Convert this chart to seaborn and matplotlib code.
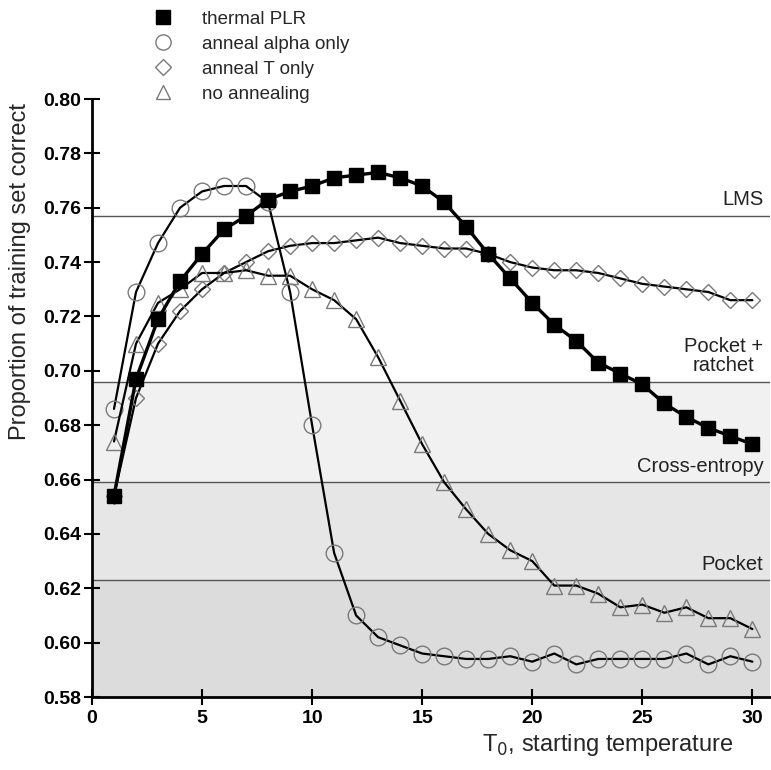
import numpy as np
import pandas as pd
import matplotlib
matplotlib.use("Agg")
import matplotlib.pyplot as plt
from matplotlib.lines import Line2D
import seaborn as sns

# ---------------- data ----------------
T0 = list(range(1, 31))
thermal_plr = [0.654, 0.697, 0.719, 0.733, 0.743, 0.752, 0.757, 0.763, 0.766, 0.768,
               0.771, 0.772, 0.773, 0.771, 0.768, 0.762, 0.753, 0.743, 0.734, 0.725,
               0.717, 0.711, 0.703, 0.699, 0.695, 0.688, 0.683, 0.679, 0.676, 0.673]
anneal_alpha = [0.686, 0.729, 0.747, 0.760, 0.766, 0.768, 0.768, 0.762, 0.729, 0.680,
                0.633, 0.610, 0.602, 0.599, 0.596, 0.595, 0.594, 0.594, 0.595, 0.593,
                0.596, 0.592, 0.594, 0.594, 0.594, 0.594, 0.596, 0.592, 0.595, 0.593]
anneal_T = [0.654, 0.690, 0.710, 0.722, 0.730, 0.736, 0.740, 0.744, 0.746, 0.747,
            0.747, 0.748, 0.749, 0.747, 0.746, 0.745, 0.745, 0.743, 0.740, 0.738,
            0.737, 0.737, 0.736, 0.734, 0.732, 0.731, 0.730, 0.729, 0.726, 0.726]
no_annealing = [0.674, 0.710, 0.725, 0.730, 0.736, 0.736, 0.737, 0.735, 0.735, 0.730,
                0.726, 0.719, 0.705, 0.689, 0.673, 0.659, 0.649, 0.640, 0.634, 0.630,
                0.621, 0.621, 0.618, 0.613, 0.614, 0.611, 0.613, 0.609, 0.609, 0.605]

series_names = ["thermal PLR", "anneal alpha only", "anneal T only", "no annealing"]

ref_names = ["LMS", "Pocket +\nratchet", "Cross-entropy", "Pocket"]
ref_values = [0.757, 0.696, 0.659, 0.623]

y_ticks = [0.58, 0.60, 0.62, 0.64, 0.66, 0.68, 0.70, 0.72, 0.74, 0.76, 0.78, 0.80]
x_ticks = [0, 5, 10, 15, 20, 25, 30]

# ---------------- style ----------------
sns.set_theme(style="ticks")
plt.rcParams["font.family"] = ["Liberation Sans", "DejaVu Sans"]

fig = plt.figure(figsize=(7.71, 7.70), dpi=100)
ax = fig.add_axes([0.1193, 0.0948, 0.8794, 0.7766])

XMAX = 30.8
YMIN, YMAX = 0.58, 0.80

# shaded bands under the reference lines
band_colors = ["#f1f1f1", "#e6e6e6", "#dcdcdc"]
ax.axhspan(YMIN, ref_values[1], color=band_colors[0], lw=0, zorder=0)
ax.axhspan(YMIN, ref_values[2], color=band_colors[1], lw=0, zorder=0)
ax.axhspan(YMIN, ref_values[3], color=band_colors[2], lw=0, zorder=0)

for v in ref_values:
    ax.axhline(v, color="#555555", lw=1.0, zorder=1)

df = pd.DataFrame({"T0": T0})
df["thermal PLR"] = thermal_plr
df["anneal alpha only"] = anneal_alpha
df["anneal T only"] = anneal_T
df["no annealing"] = no_annealing

styles = {
    "thermal PLR": dict(marker="s", markersize=10, markerfacecolor="black",
                        markeredgecolor="black", lw=2.4, z=6),
    "anneal alpha only": dict(marker="o", markersize=12, markerfacecolor="none",
                              markeredgecolor="#7a7a7a", markeredgewidth=1.0, lw=1.6, z=4),
    "anneal T only": dict(marker="D", markersize=8.5, markerfacecolor="none",
                          markeredgecolor="#7a7a7a", markeredgewidth=1.0, lw=1.6, z=4),
    "no annealing": dict(marker="^", markersize=11, markerfacecolor="none",
                         markeredgecolor="#7a7a7a", markeredgewidth=1.0, lw=1.6, z=4),
}

for name in ["anneal alpha only", "anneal T only", "no annealing", "thermal PLR"]:
    st = styles[name]
    sns.lineplot(data=df, x="T0", y=name, ax=ax, color="black", zorder=st["z"],
                 marker=st["marker"], markersize=st["markersize"],
                 markerfacecolor=st["markerfacecolor"],
                 markeredgecolor=st["markeredgecolor"],
                 markeredgewidth=st.get("markeredgewidth", 1.0),
                 linewidth=st["lw"], legend=False)

ax.set_xlim(0, XMAX)
ax.set_ylim(YMIN, YMAX)
ax.set_xticks(x_ticks)
ax.set_yticks(y_ticks)
ax.set_yticklabels([f"{v:.2f}" for v in y_ticks])
ax.tick_params(axis="both", direction="inout", length=12, width=1.5,
               labelsize=14, colors="black")
for lab in ax.get_xticklabels() + ax.get_yticklabels():
    lab.set_fontweight("bold")
ax.tick_params(axis="x", pad=3)
ax.tick_params(axis="y", pad=2)

for side in ["top", "right"]:
    ax.spines[side].set_visible(False)
for side in ["left", "bottom"]:
    ax.spines[side].set_linewidth(2.0)
    ax.spines[side].set_color("black")

ax.set_xlabel("")
ax.set_ylabel("")
fig.text(0.026, 0.648, "Proportion of training set correct", rotation=90,
         ha="center", va="center", fontsize=17)

# reference line labels
label_pos = {
    "LMS": (30.5, 0.7595),
    "Pocket +\nratchet": (30.5, 0.6985),
    "Cross-entropy": (30.5, 0.6612),
    "Pocket": (30.5, 0.6252),
}
for name in ref_names:
    x, y = label_pos[name]
    ax.text(x, y, name, ha="right", va="bottom", fontsize=14.5, color="#222222",
            multialignment="center", linespacing=1.0)

fig.text(0.951, 0.032, "T$_0$, starting temperature", ha="right", va="center",
         fontsize=17)

# legend at top
handles = [
    Line2D([], [], linestyle="none", marker="s", markersize=10,
           markerfacecolor="black", markeredgecolor="black"),
    Line2D([], [], linestyle="none", marker="o", markersize=11,
           markerfacecolor="none", markeredgecolor="#7a7a7a"),
    Line2D([], [], linestyle="none", marker="D", markersize=8,
           markerfacecolor="none", markeredgecolor="#7a7a7a"),
    Line2D([], [], linestyle="none", marker="^", markersize=10,
           markerfacecolor="none", markeredgecolor="#7a7a7a"),
]
fig.legend(handles, series_names, loc="upper left", bbox_to_anchor=(0.170, 1.003),
           frameon=False, fontsize=13.5, handlelength=2.0, handletextpad=1.1,
           labelspacing=0.42, borderpad=0.2)

fig.savefig("out.png", dpi=100)
